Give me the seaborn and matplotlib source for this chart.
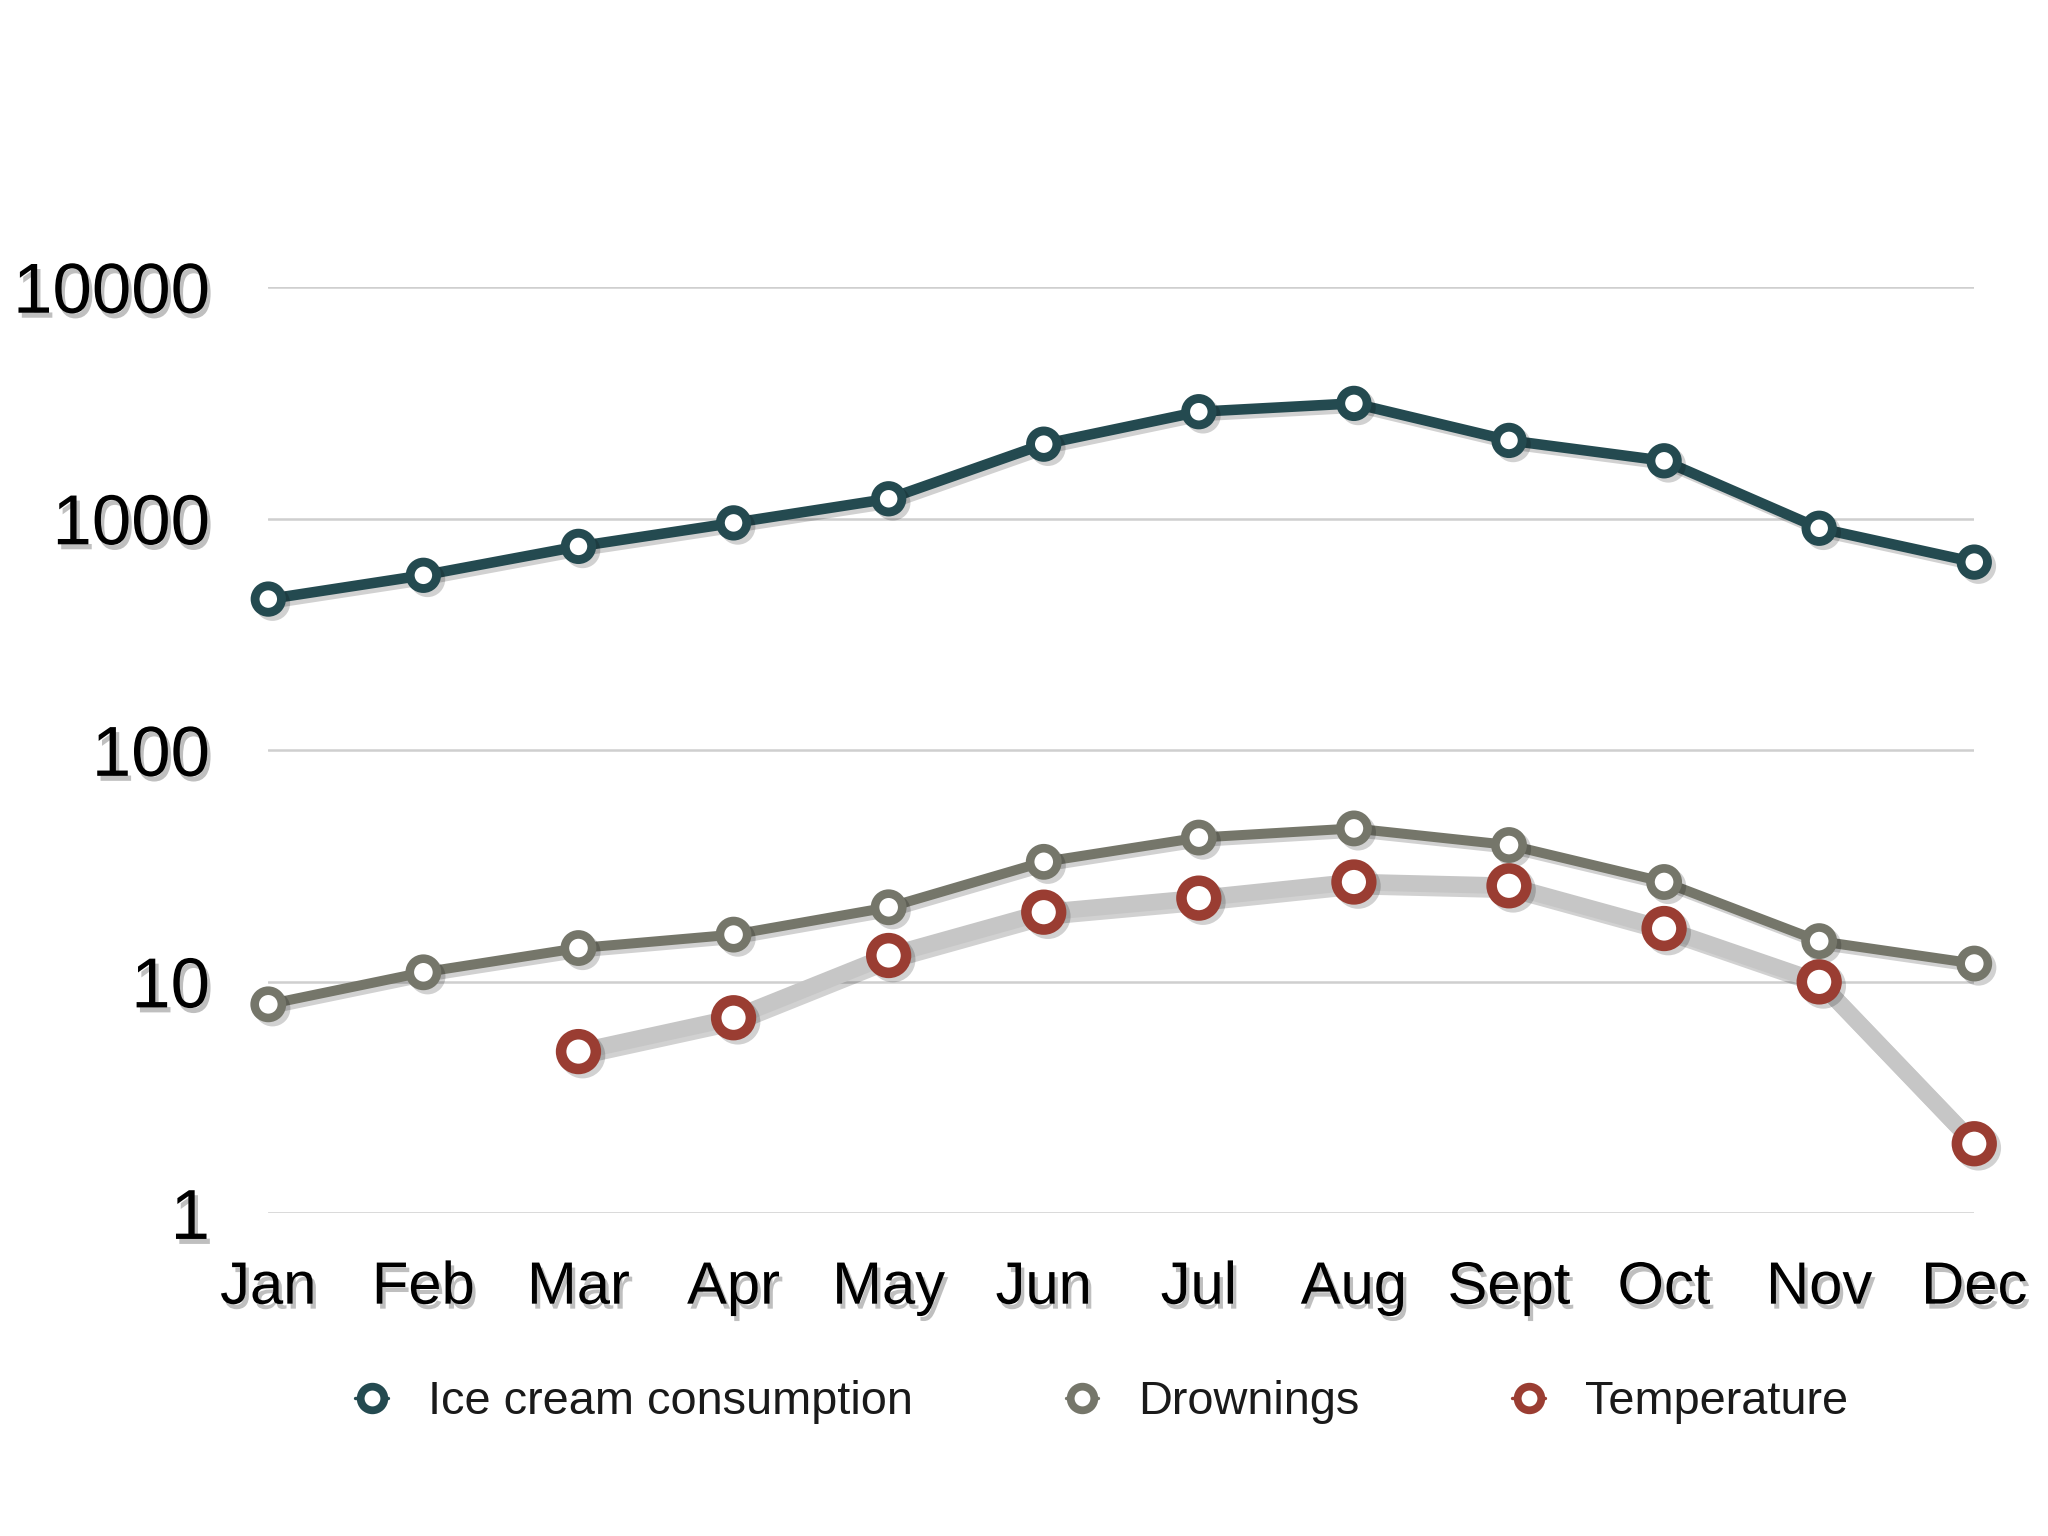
import numpy as np
import pandas as pd
import matplotlib.pyplot as plt
import matplotlib.patheffects as pe
import seaborn as sns

months = ["Jan", "Feb", "Mar", "Apr", "May", "Jun",
          "Jul", "Aug", "Sept", "Oct", "Nov", "Dec"]
ice_cream = [450, 570, 760, 960, 1220, 2100, 2900, 3150, 2180, 1780, 910, 650]
drownings = [8, 11, 14, 16, 21, 33, 42, 46, 39, 27, 15, 12]
temperature = [np.nan, np.nan, 5, 7, 13, 20, 23, 27, 26, 17, 10, 2]
ytick_vals = [1, 10, 100, 1000, 10000]

df = pd.DataFrame({
    "month": months,
    "pos": range(len(months)),
    "Ice cream consumption": ice_cream,
    "Drownings": drownings,
    "Temperature": temperature,
})

sns.set_theme(style="white")
plt.rcParams["font.family"] = ["Liberation Sans", "DejaVu Sans"]

fig = plt.figure(figsize=(10.24, 7.68), dpi=200)
ax = fig.add_axes([0.131, 0.210, 0.833, 0.603])

shadow = [pe.SimpleLineShadow(offset=(1.5, -1.5), alpha=0.18, shadow_color="black"),
          pe.Normal()]

# series: (column, line colour, marker edge colour, line width, marker size, edge width)
series = [
    ("Ice cream consumption", "#244a50", "#244a50", 3.8, 9.5, 3.2),
    ("Drownings", "#75766a", "#75766a", 3.6, 9.8, 3.1),
    ("Temperature", "#c6c6c6", "#9a3d32", 6.0, 12.5, 3.8),
]

for col, lc, mc, lw, ms, mew in series:
    sns.lineplot(
        data=df, x="pos", y=col, ax=ax,
        color=lc, lw=lw, marker="o", markersize=ms,
        markerfacecolor="white", markeredgecolor=mc, markeredgewidth=mew,
        clip_on=False, zorder=3, path_effects=shadow,
    )

ax.set_yscale("log")
ax.set_ylim(1, 10000)
ax.set_xlim(0, len(months) - 1)
ax.set_yticks(ytick_vals)
ax.set_yticklabels([str(v) for v in ytick_vals])
ax.minorticks_off()
ax.yaxis.set_minor_locator(plt.NullLocator())
ax.set_xticks(df["pos"])
ax.set_xticklabels(months)
ax.set_xlabel("")
ax.set_ylabel("")

ax.grid(axis="y", color="#cfcfcf", lw=0.9)
ax.grid(axis="x", visible=False)
for s in ax.spines.values():
    s.set_visible(False)

text_shadow = [pe.SimplePatchShadow(offset=(1.2, -1.8), shadow_rgbFace="black", alpha=0.25),
               pe.Normal()]
ax.tick_params(axis="y", labelsize=25.5, pad=21, length=0, labelcolor="black")
ax.tick_params(axis="x", labelsize=21.5, pad=17, length=0, labelcolor="black")
for lab in ax.get_xticklabels() + ax.get_yticklabels():
    lab.set_path_effects(text_shadow)

# legend with equal-sized ring markers
handles = []
for col, lc, mc, lw, ms, mew in series:
    h, = ax.plot([], [], color=mc, lw=1.2, marker="o", markersize=8.5,
                 markerfacecolor="white", markeredgecolor=mc, markeredgewidth=2.8)
    handles.append(h)
leg = fig.legend(
    handles, [s[0] for s in series],
    loc="center", bbox_to_anchor=(0.538, 0.087), ncol=3, frameon=False,
    fontsize=16.9, handlelength=0.7, handletextpad=0.85, columnspacing=3.25,
)
for t in leg.get_texts():
    t.set_color("#1a1a1a")

fig.savefig("out.png", dpi=200, facecolor="white")
